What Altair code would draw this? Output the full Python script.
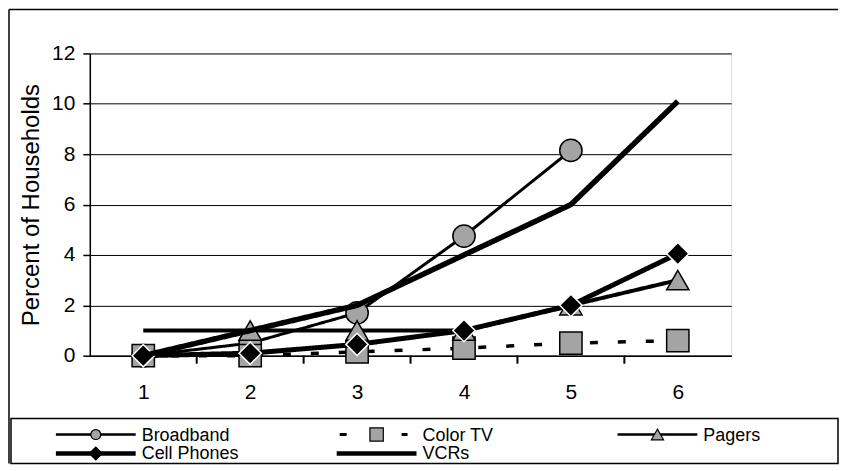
import altair as alt
import pandas as pd

# ---- data ----
categories = [1, 2, 3, 4, 5, 6]
series_names = ["Broadband", "Color TV", "Pagers", "Cell Phones", "VCRs"]
broadband = [0, 0.5, 1.7, 4.75, 8.15, None]
color_tv = [0, 0, 0.15, 0.3, 0.5, 0.6]
pagers = [1, 1, 1, 1, 2, 3]
cell_phones = [0, 0.1, 0.45, 1, 2, 4.05]
vcrs = [0, 1, 2, 4, 6, 10.1]
pagers_marker_shown = [False, True, True, True, True, True]
y_ticks = [0, 2, 4, 6, 8, 10, 12]

values = {
    "Broadband": broadband,
    "Color TV": color_tv,
    "Pagers": pagers,
    "Cell Phones": cell_phones,
    "VCRs": vcrs,
}

rows = []
for name in series_names:
    for i, (c, v) in enumerate(zip(categories, values[name])):
        if v is None:
            continue
        shown = name != "VCRs" and not (name == "Pagers" and not pagers_marker_shown[i])
        rows.append({"series": name, "x": c, "y": v, "marker": shown})
df = pd.DataFrame(rows)
boundaries = [c + 0.5 for c in categories[:-1]]
bounds_df = pd.DataFrame({"b": boundaries})
legend_df = pd.DataFrame({
    "series": series_names,
    "col": [i % 3 for i in range(len(series_names))],
    "row": [i // 3 for i in range(len(series_names))],
})

# ---- styling ----
W, H = 643, 303
FONT = "Liberation Sans"
GRAY = "#a4a4a4"
style = {
    "Broadband": dict(width=3, dash=[1, 0], shape="circle", fill=GRAY, lsize=100),
    "Color TV": dict(width=3.5, dash=[8, 20], shape="square", fill=GRAY, lsize=180),
    "Pagers": dict(width=4, dash=[1, 0], shape="triangle-up", fill=GRAY, lsize=150),
    "Cell Phones": dict(width=5, dash=[1, 0], shape="diamond", fill="black", lsize=170),
    "VCRs": dict(width=5.5, dash=[1, 0], shape=None, fill=None, lsize=0),
}

x_scale = alt.Scale(domain=[0.5, 6.5], nice=False, zero=False)
# labels on the categories, tick marks on the category boundaries (Excel style)
x_axis = alt.Axis(
    values=sorted(categories + boundaries), grid=False, title=None,
    labelExpr="datum.value % 1 == 0 ? datum.label : ''",
    tickSize=8, tickWidth=2,
    tickColor={"condition": {"test": "datum.value % 1 != 0", "value": "black"}, "value": "white"},
    labelFontSize=21, labelPadding=18, format="d",
    labelColor="black", domainColor="black", domainWidth=1.5,
)
xenc = alt.X("x:Q", scale=x_scale, axis=x_axis)
yenc = alt.Y(
    "y:Q",
    scale=alt.Scale(domain=[0, 12], nice=False),
    axis=alt.Axis(values=y_ticks, title="Percent of Households",
                  grid=True, gridColor="black", gridWidth=1,
                  tickSize=7, tickColor="black", tickWidth=1.5,
                  domainColor="black", domainWidth=1.5,
                  labelFontSize=21, labelPadding=8, labelColor="black",
                  titleFontSize=24, titleFontWeight="normal", titleColor="black",
                  titlePadding=8),
)

base = alt.Chart(df)
plot_layers = []
for name in series_names:
    s = style[name]
    sub = base.transform_filter(alt.datum.series == name)
    plot_layers.append(
        sub.mark_line(color="black", strokeWidth=s["width"], strokeDash=s["dash"])
        .encode(x=xenc, y=yenc, order="x:Q")
    )
    if s["shape"]:
        plot_layers.append(
            sub.transform_filter(alt.datum.marker)
            .mark_point(shape=s["shape"], filled=True, fill=s["fill"],
                        stroke="white" if name == "Cell Phones" else "black",
                        strokeWidth=1.5, size=500, opacity=1)
            .encode(x=xenc, y=yenc)
        )
# boundary tick marks also drawn as rules hanging below the axis
plot_layers.append(
    alt.Chart(bounds_df).mark_rule(color="black", strokeWidth=2, y2Offset=8)
    .encode(x=alt.X("b:Q", scale=x_scale, axis=x_axis),
            y=alt.Y(datum=0, scale=alt.Scale(domain=[0, 12], nice=False)),
            y2=alt.Y2(datum=0))
)
main = alt.layer(*plot_layers)

# ---- legend drawn as marks ----
lx = alt.X("col:Q", scale=alt.Scale(domain=[0, 2], range=[6, 569], nice=False, zero=False), axis=None)
ly = alt.Y("row:Q", scale=alt.Scale(domain=[0, 1], range=[382, 401], nice=False, zero=False), axis=None)
lbase = alt.Chart(legend_df)
leg_layers = []
for name in series_names:
    s = style[name]
    sub = lbase.transform_filter(alt.datum.series == name)
    if name == "Color TV":
        leg_layers.append(sub.mark_rule(color="black", strokeWidth=3, strokeDash=[7, 55],
                                        xOffset=-37, x2Offset=31)
                          .encode(x=lx, x2="col:Q", y=ly))
    else:
        leg_layers.append(sub.mark_rule(color="black", strokeWidth=2.5 if s["width"] < 5 else 4.5,
                                        xOffset=-40, x2Offset=40)
                          .encode(x=lx, x2="col:Q", y=ly))
    if s["shape"]:
        leg_layers.append(sub.mark_point(shape=s["shape"], filled=True, fill=s["fill"],
                                         stroke="black", strokeWidth=1.2, size=s["lsize"], opacity=1)
                          .encode(x=lx, y=ly))
    leg_layers.append(sub.mark_text(align="left", baseline="middle", dx=46, dy=1,
                                    fontSize=18, font=FONT, color="black")
                      .encode(x=lx, y=ly, text="series:N"))
legend = alt.layer(*leg_layers)

# ---- frames ----
one = alt.Chart(pd.DataFrame({"k": [0]}))
frame_left = one.mark_rule(color="black", strokeWidth=1.5).encode(
    x=alt.value(-81), y=alt.value(-44), y2=alt.value(411))
frame_top = one.mark_rule(color="black", strokeWidth=1.5).encode(
    x=alt.value(-81), x2=alt.value(750), y=alt.value(-44))
legend_box = one.mark_rect(filled=False, stroke="black", strokeWidth=1.5).encode(
    x=alt.value(-79), x2=alt.value(750), y=alt.value(366), y2=alt.value(411))
frames = alt.layer(frame_left, frame_top, legend_box)

chart = alt.layer(frames, main, legend).resolve_scale(
    x="independent", y="independent"
).properties(
    width=W, height=H, padding=0
).configure_view(
    stroke="black", strokeWidth=1.5
).configure(
    font=FONT
)

chart.save("out.html", embed_options={"renderer": "svg", "actions": False})
